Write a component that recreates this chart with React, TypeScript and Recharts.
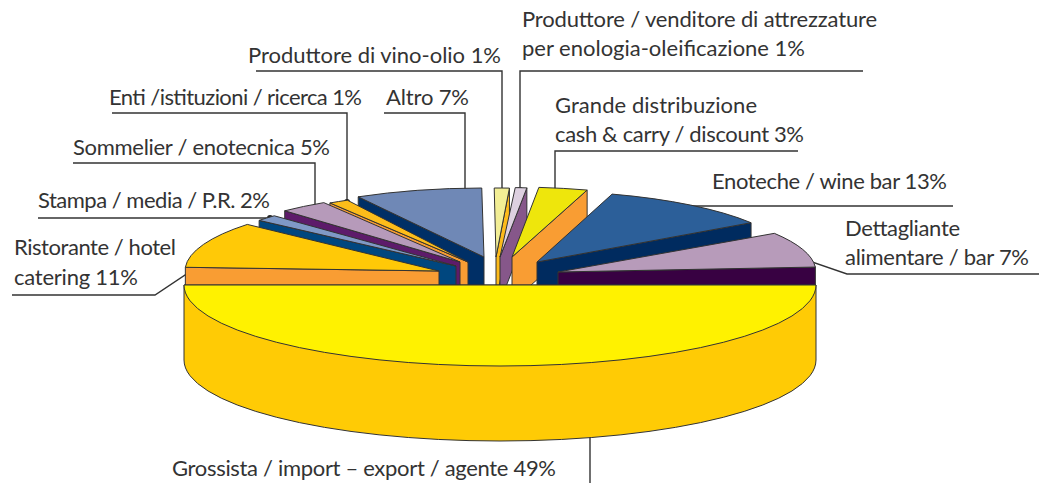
import React from 'react';
import { PieChart, Pie } from 'recharts';

// Labelled shares, in pie order (counter-clockwise from the right)
const categories = [
    'Dettagliante alimentare / bar',
    'Enoteche / wine bar',
    'Grande distribuzione',
    'Produttore / venditore',
    'Produttore di vino-olio',
    'Altro',
    'Enti /istituzioni / ricerca',
    'Sommelier / enotecnica',
    'Stampa / media / P.R.',
    'Ristorante / hotel catering',
    'Grossista / import – export / agente',
];
const shares = [7, 13, 3, 1, 1, 7, 1, 5, 2, 11, 49];

const topColors = ['#B79BBA', '#2C5F99', '#EEE60C', '#DDD0E0', '#F2EE95', '#6F88B6', '#FDBD1A', '#B69ABA', '#7F99C6', '#FFC907', '#FFF200'];
const wallColors = ['#380142', '#002B5F', '#F99D33', '#86578A', '#FDBB1B', '#002F66', '#F99D33', '#5D1B6A', '#00477F', '#F99D33', '#FFCB05'];

// Hand-drawn perspective of the original: explode offset, ellipse radii, angle nudges
const explodeX = [58, 37, 12, 0, -4, -16, -32, -40, -44, -61, 0];
const explodeY = [-13, -23, -28, -28, -28, -28, -23, -23, -19, -14, 0];
const radiusX = [258, 257, 257, 257, 257, 257, 257, 257, 257, 254, 316];
const radiusY = [71, 71, 70, 69.5, 69, 69, 70, 70, 71, 71, 81];
const startNudge = [5.8, 10.2, 2.8, 3, 2.4, 2.3, 4.6, 5, 0, -3.2, -1.8];
const endNudge = [9.6, 2.8, 3, 2, 2.2, 5.9, 5.5, -2, -2.2, -4.8, 1.8];

// Back slices first, the big front slice last
const paintOrder = [4, 3, 2, 1, 0, 5, 6, 7, 8, 9, 10];

const WALL_HEIGHT = 45;
const FRONT_WALL_HEIGHT = 75;
const INK = '#333333';

const data = categories.map((name, i) => ({ name, value: shares[i] }));

const Slice3D = (props: any) => {
    const { cx, cy, startAngle, endAngle, index } = props;
    const ax = cx + explodeX[index];
    const ay = cy + explodeY[index];
    const rx = radiusX[index];
    const ry = radiusY[index];
    const a0 = ((startAngle + startNudge[index]) * Math.PI) / 180;
    const a1 = ((endAngle + endNudge[index]) * Math.PI) / 180;
    const x0 = ax + rx * Math.cos(a0);
    const y0 = ay - ry * Math.sin(a0);
    const x1 = ax + rx * Math.cos(a1);
    const y1 = ay - ry * Math.sin(a1);
    const mid = (startAngle + endAngle) / 2;
    const large = endAngle + endNudge[index] - startAngle - startNudge[index] > 180 ? 1 : 0;
    const top = `M${ax},${ay} L${x0},${y0} A${rx},${ry} 0 ${large} 0 ${x1},${y1} Z`;

    let wall: string;
    if (mid > 180) {
        // front slice: outer curved wall
        const h = FRONT_WALL_HEIGHT;
        wall = `M${x0},${y0} L${x0},${y0 + h} A${rx},${ry} 0 ${large} 0 ${x1},${y1 + h} L${x1},${y1} Z`;
    } else {
        // back slices: the cut face that looks toward the viewer
        const ex = mid < 90 ? x0 : x1;
        const ey = mid < 90 ? y0 : y1;
        const h = WALL_HEIGHT;
        wall = `M${ax},${ay} L${ex},${ey} L${ex},${ey + h} L${ax},${ay + h} Z`;
    }

    return (
        <g>
            <path d={wall} fill={wallColors[index]} stroke={INK} strokeWidth={1} strokeLinejoin="round" />
            <path d={top} fill={topColors[index]} stroke={INK} strokeWidth={1} strokeLinejoin="round" />
        </g>
    );
};

const labelLines: string[][] = [
    ['Dettagliante', 'alimentare / bar 7%'],
    ['Enoteche / wine bar 13%'],
    ['Grande distribuzione', 'cash & carry / discount 3%'],
    ['Produttore / venditore di attrezzature', 'per enologia-oleificazione 1%'],
    ['Produttore di vino-olio 1%'],
    ['Altro 7%'],
    ['Enti /istituzioni / ricerca 1%'],
    ['Sommelier / enotecnica 5%'],
    ['Stampa / media / P.R. 2%'],
    ['Ristorante / hotel', 'catering 11%'],
    ['Grossista / import – export / agente 49%'],
];
const labelX = [845, 712, 555, 522, 248, 386, 109, 73, 38, 14, 172];
const labelY = [
    [236, 265],
    [189],
    [113, 142],
    [27, 56],
    [63],
    [105],
    [105],
    [155],
    [208],
    [255, 285],
    [476],
];
// Widths measured on the reference, the substitute font runs a little wide
const labelWidth = [
    [115, 184],
    [235],
    [202, 249],
    [355, 283],
    [253],
    [83],
    [253],
    [257],
    [232],
    [162, 124],
    [384],
];
// Leader lines, the first point is the dot on the slice
const leaders: number[][][] = [
    [[786, 253], [847, 274], [1039, 274]],
    [[642, 206], [953, 206]],
    [[555, 194], [555, 151], [798, 151]],
    [[520, 190], [520, 71], [863, 71]],
    [[502, 191], [502, 71], [256, 71]],
    [[465, 194], [465, 113], [384, 113]],
    [[347, 202], [347, 113], [112, 113]],
    [[315, 210], [315, 163], [73, 163]],
    [[270, 218], [38, 218]],
    [[218, 253], [155, 295], [12, 295]],
    [[590, 320], [590, 483]],
];

const App: React.FC = () => {
    return (
        <div style={{ position: 'absolute', left: 0, top: 0, width: 1039, height: 483 }}>
            <PieChart width={1039} height={483} margin={{ top: 0, right: 0, bottom: 0, left: 0 }}>
                {paintOrder.map((slice) => (
                    <Pie
                        key={slice}
                        data={data}
                        dataKey="value"
                        nameKey="name"
                        cx={500}
                        cy={285}
                        innerRadius={0}
                        outerRadius={316}
                        startAngle={-1.8}
                        endAngle={358.2}
                        stroke="none"
                        isAnimationActive={false}
                        shape={(props: any) => (props.index === slice ? <Slice3D {...props} /> : <g />)}
                    />
                ))}
                <g>
                    {leaders.map((pts, i) => (
                        <g key={i}>
                            <polyline
                                points={pts.map((p) => p.join(',')).join(' ')}
                                fill="none"
                                stroke={INK}
                                strokeWidth={1.4}
                            />
                            <circle cx={pts[0][0]} cy={pts[0][1]} r={3} fill="#222222" />
                        </g>
                    ))}
                    {labelLines.map((lines, i) =>
                        lines.map((line, j) => (
                            <text
                                key={`${i}-${j}`}
                                x={labelX[i]}
                                y={labelY[i][j]}
                                fontFamily="Lato, sans-serif"
                                fontSize={22}
                                fill={INK}
                                textLength={labelWidth[i][j]}
                                lengthAdjust="spacing"
                            >
                                {line}
                            </text>
                        )),
                    )}
                </g>
            </PieChart>
        </div>
    );
};

export default App;
